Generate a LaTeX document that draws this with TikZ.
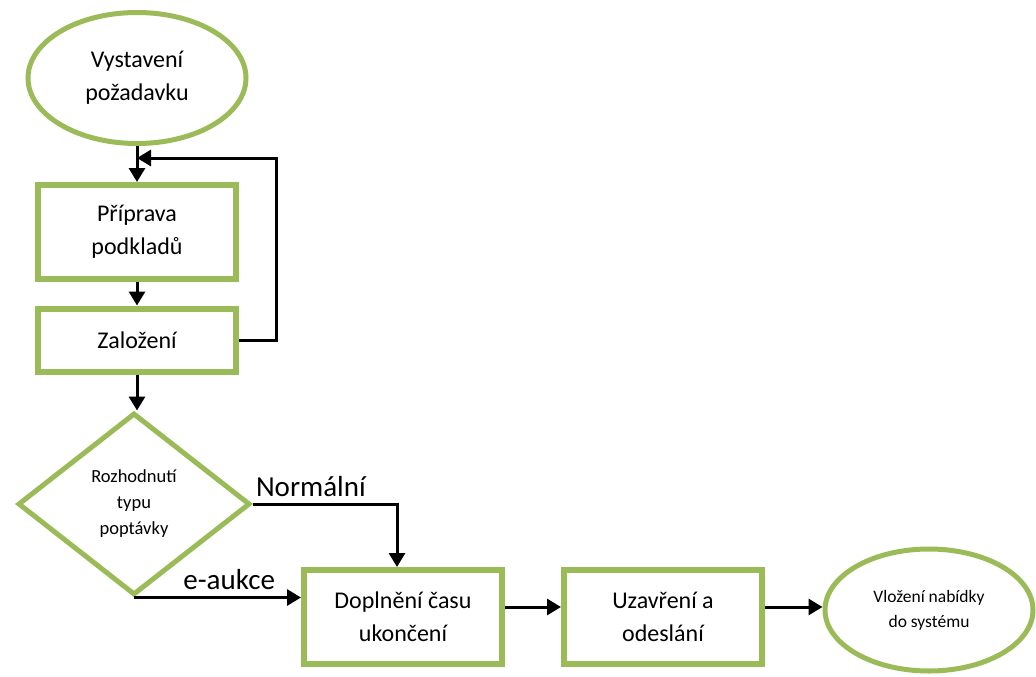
\documentclass[tikz,border=0pt]{standalone}
\usepackage{fontspec}
\setmainfont{Carlito}
\usetikzlibrary{shapes.geometric,arrows.meta}
\definecolor{olive}{HTML}{9BBB59}
\tikzset{
    krok/.style={draw=olive,line width=6pt,minimum width=198pt,inner sep=0pt,align=center,font=\fontsize{24}{33}\selectfont},
    kraj/.style={ellipse,draw=olive,line width=5pt,inner sep=0pt,align=center},
    flow/.style={-{Triangle[length=14pt,width=16pt]},line width=3pt,black},
    popis/.style={font=\fontsize{29}{34}\selectfont,inner sep=0pt}
}
\begin{document}
\begin{tikzpicture}[x=1pt,y=-1pt]
    \useasboundingbox (0,0) rectangle (1036,677);
    % Uzly procesu
    \node[kraj,minimum width=218pt,minimum height=131pt,font=\fontsize{24}{33}\selectfont] (start) at (137,78) {Vystavení\\požadavku};
    \node[krok,minimum height=94pt] (prep) at (137,232) {Příprava\\podkladů};
    \node[krok,minimum height=63pt] (zal) at (137,340) {Založení};
    \node[diamond,draw=olive,line width=5pt,minimum width=232pt,minimum height=182pt,inner sep=0pt,align=center,font=\fontsize{18.5}{26}\selectfont] (dec) at (134,504) {Rozhodnutí\\typu\\poptávky};
    \node[krok,minimum height=94pt] (doc) at (403,617) {Doplnění času\\ukončení};
    \node[krok,minimum height=94pt] (uza) at (663,617) {Uzavření a\\odeslání};
    \node[kraj,minimum width=208pt,minimum height=122pt,font=\fontsize{17.5}{25}\selectfont] (vlo) at (929,610) {Vložení nabídky\\do systému};
    
    % Hlavni tok
    \coordinate (merge) at ([yshift=-12pt]start.south);
    \draw[flow] (start.south) -- (prep.north);
    \draw[flow] (prep.south) -- (zal.north);
    \draw[flow] (zal.south) -- (zal.south |- dec.north);
    % Navrat ze zalozeni
    \draw[flow] (zal.east) -- ++(37,0) |- (merge);
    
    % Vetve rozhodnuti
    \draw[flow] (dec.east) -| ([xshift=-6pt]doc.north) node[popis,pos=0,above right,xshift=2pt,yshift=6pt] {Normální};
    \draw[flow] (dec.south) -- (dec.south -| doc.west) node[popis,pos=0.57,above,yshift=6pt] {e-aukce};
    
    % Dokonceni
    \coordinate (r1) at ([yshift=10pt]doc.east);
    \coordinate (r2) at ([yshift=10pt]uza.east);
    \draw[flow] (r1) -- (r1 -| uza.west);
    \draw[flow] (r2) -- (r2 -| vlo.west);
\end{tikzpicture}
\end{document}
